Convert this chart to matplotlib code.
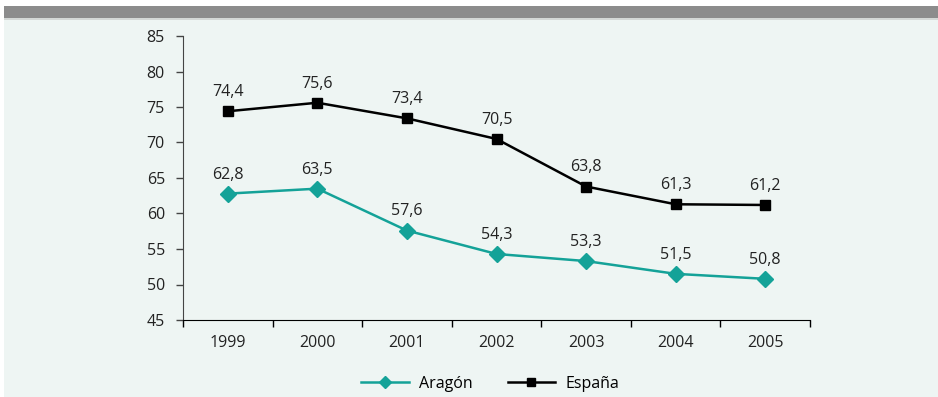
import matplotlib.pyplot as plt
from matplotlib.patches import Rectangle

plt.rcParams['font.family'] = ['Open Sans', 'DejaVu Sans']

years = ['1999', '2000', '2001', '2002', '2003', '2004', '2005']
aragon = [62.8, 63.5, 57.6, 54.3, 53.3, 51.5, 50.8]
espana = [74.4, 75.6, 73.4, 70.5, 63.8, 61.3, 61.2]

teal = '#14a298'
bg = '#eef5f3'
fs = 11.5

fig = plt.figure(figsize=(9.38, 3.97), dpi=100)
fig.patch.set_facecolor('white')

# fondo del panel y franja gris superior
fig.patches.append(Rectangle((4 / 938, 0), 934 / 938, 377 / 397,
                             transform=fig.transFigure, facecolor=bg,
                             edgecolor='none', zorder=-2))
fig.patches.append(Rectangle((4 / 938, 378 / 397), 934 / 938, 13 / 397,
                             transform=fig.transFigure, facecolor='#8c8c8c',
                             edgecolor='none', zorder=-1))
fig.patches.append(Rectangle((4 / 938, 377 / 397), 934 / 938, 1.5 / 397,
                             transform=fig.transFigure, facecolor='#d4d8d6',
                             edgecolor='none', zorder=-1))

ax = fig.add_axes([183 / 938, 77 / 397, 627 / 938, 284 / 397])
ax.set_facecolor('none')

x = list(range(len(years)))
ax.plot(x, aragon, color=teal, lw=1.8, marker='D', ms=8,
        markerfacecolor=teal, markeredgecolor=teal, label='Aragón', clip_on=False)
ax.plot(x, espana, color='black', lw=1.8, marker='s', ms=7,
        markerfacecolor='black', label='España', clip_on=False)

for serie in (aragon, espana):
    for xi, v in zip(x, serie):
        ax.annotate(f'{v:.1f}'.replace('.', ','), (xi, v), xytext=(0, 8),
                    textcoords='offset points', ha='center', va='bottom',
                    fontsize=fs, color='#222222')

ax.set_xlim(-0.5, len(years) - 0.5)
ax.set_ylim(45, 85)
ax.set_yticks(range(45, 90, 5))
ax.set_xticks(x)
ax.set_xticklabels(years)
ax.set_xticks([i - 0.5 for i in range(len(years) + 1)], minor=True)
ax.tick_params(axis='x', which='major', length=0, pad=11, labelsize=fs,
               labelcolor='#222222')
ax.tick_params(axis='x', which='minor', length=5, width=1, direction='out')
ax.tick_params(axis='y', length=5, width=1, labelsize=fs, pad=8,
               labelcolor='#222222', color='#444444')

for s in ['top', 'right']:
    ax.spines[s].set_visible(False)
ax.spines['left'].set_color('#444444')
ax.spines['bottom'].set_color('black')

leg = fig.legend(loc='center', bbox_to_anchor=(490 / 938, 13 / 397), ncol=2,
                 frameon=False, fontsize=fs, handlelength=3.0, markerscale=0.8,
                 columnspacing=2.2, handletextpad=0.6)

fig.savefig('out.png', dpi=100, facecolor=fig.get_facecolor())
